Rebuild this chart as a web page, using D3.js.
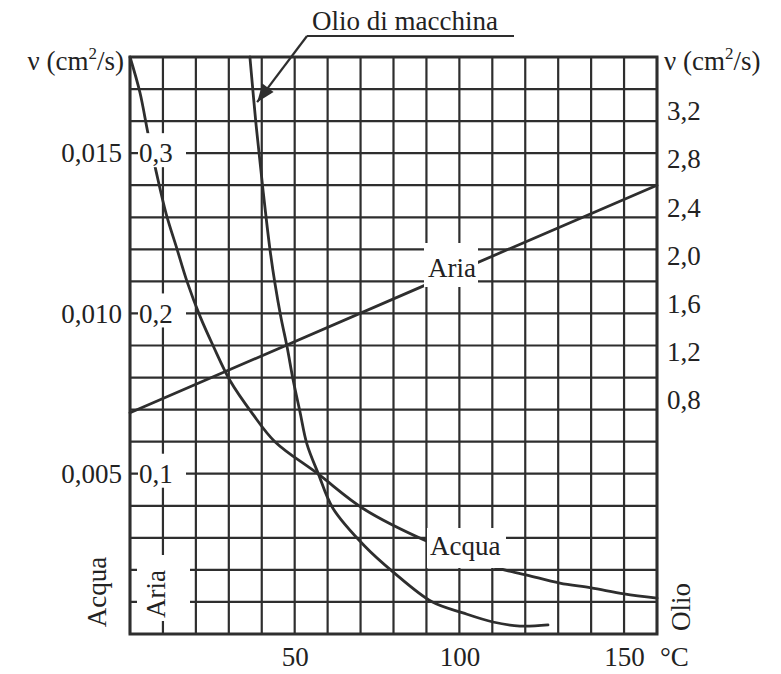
<!DOCTYPE html>
<html>
<head>
<meta charset="utf-8">
<script src="https://cdn.jsdelivr.net/npm/d3@7"></script>
<style>
  body { margin: 0; background: #fff; }
  svg text { font-family: "Liberation Serif", "Times New Roman", serif; font-size: 27px; fill: #222; }
</style>
</head>
<body>
<svg id="chart" width="781" height="674"></svg>
<script>
// temperature (°C) and tick values
const gridTemps = [0, 10, 20, 30, 40, 50, 60, 70, 80, 90, 100, 110, 120, 130, 140, 150, 160]
const tempTicks = [50, 100, 150]
const waterTicks = [0.005, 0.010, 0.015]
const airTicks = [0.1, 0.2, 0.3]
const oilTicks = [0.8, 1.2, 1.6, 2.0, 2.4, 2.8, 3.2]

// Acqua, ν in cm²/s (left outer scale)
const waterT  = [0, 3, 5.5, 8, 11, 14.3, 17.3, 21.3, 25.2, 30.4, 37, 44, 57, 71, 90, 110, 120.5, 130.5, 140, 150, 160]
const waterNu = [0.0180, 0.0169, 0.0156, 0.0144, 0.0131, 0.0120, 0.0110, 0.0099, 0.0090, 0.0079, 0.0069, 0.0060,
                 0.0050, 0.0039, 0.0029, 0.0021, 0.00184, 0.00159, 0.00144, 0.00125, 0.00112]

// Aria, ν in cm²/s (left inner scale)
const airT  = [0, 90, 160]
const airNu = [0.138, 0.218, 0.280]

// Olio di macchina, ν in cm²/s (right scale)
const oilT  = [36.4, 38.3, 40.4, 42.5, 44.0, 45.8, 47.7, 49.5, 51.6, 53.7, 57.1, 61.6, 71.3, 80.1, 91.7, 101.1, 110.2, 118.4, 126.9]
const oilNu = [3.65, 3.08, 2.54, 2.05, 1.77, 1.49, 1.24, 0.97, 0.76, 0.65, 0.55, 0.43, 0.30, 0.21, 0.11, 0.072, 0.041, 0.027, 0.031]

const ink = "#2e2e2e"
const svg = d3.select("#chart")
const itLocale = d3.formatLocale({decimal: ",", thousands: ".", grouping: [3], currency: ["€", ""]})

const x = d3.scaleLinear().domain([0, 160]).range([130, 657])
const yWater = d3.scaleLinear().domain([0, 0.018]).range([634, 57])
const yAir = d3.scaleLinear().domain([0, 0.36]).range([634, 57])
const yOil = d3.scaleLinear().domain([0, 0.8, 3.65]).range([634, 400, 57])

const gridLevels = d3.range(19).map(i => i / 1000)

// grid
const grid = svg.append("g").attr("stroke", ink).attr("stroke-width", 2.2)
grid.selectAll(".v").data(gridTemps).join("line")
  .attr("x1", d => x(d)).attr("x2", d => x(d))
  .attr("y1", yWater(0)).attr("y2", yWater(0.018))
grid.selectAll(".h").data(gridLevels).join("line")
  .attr("x1", x(0)).attr("x2", x(160))
  .attr("y1", d => yWater(d)).attr("y2", d => yWater(d))

// curves
const lineOf = (ys, curve) => d3.line().x(d => x(d[0])).y(d => ys(d[1])).curve(curve)
const curves = svg.append("g").attr("fill", "none").attr("stroke", ink)
  .attr("stroke-width", 2.8).attr("stroke-linecap", "round")
curves.append("path").attr("d", lineOf(yWater, d3.curveCatmullRom.alpha(0.5))(d3.zip(waterT, waterNu)))
curves.append("path").attr("d", lineOf(yAir, d3.curveLinear)(d3.zip(airT, airNu)))
curves.append("path").attr("d", lineOf(yOil, d3.curveCatmullRom.alpha(0.5))(d3.zip(oilT, oilNu)))

// white patches behind labels inside the plot
const patches = [
  ...airTicks.map(v => ({x: 138, y: yAir(v) - 20, w: 48, h: 34})),
  {x: 137, y: 555, w: 53, h: 66},
  {x: 424, y: 243, w: 54, h: 44},
  {x: 427, y: 528, w: 79, h: 40}
]
svg.append("g").selectAll("rect").data(patches).join("rect")
  .attr("x", d => d.x).attr("y", d => d.y).attr("width", d => d.w).attr("height", d => d.h)
  .attr("fill", "#fff")

// frame
svg.append("rect")
  .attr("x", x(0)).attr("y", yWater(0.018))
  .attr("width", x(160) - x(0)).attr("height", yWater(0) - yWater(0.018))
  .attr("fill", "none").attr("stroke", ink).attr("stroke-width", 3)

// axes
const styleAxis = g => g
  .call(g => g.select(".domain").remove())
  .attr("font-family", null).attr("font-size", null)

svg.append("g")
  .attr("transform", `translate(${x(0)},0)`)
  .call(d3.axisLeft(yWater).tickValues(waterTicks).tickFormat(itLocale.format(".3f")).tickSize(0).tickPadding(8))
  .call(styleAxis)

svg.append("g")
  .attr("transform", `translate(${x(0)},0)`)
  .call(d3.axisRight(yAir).tickValues(airTicks).tickFormat(itLocale.format(".1f")).tickSize(0).tickPadding(9))
  .call(styleAxis)

svg.append("g")
  .attr("transform", `translate(${x(160)},0)`)
  .call(d3.axisRight(yOil).tickValues(oilTicks).tickFormat(itLocale.format(".1f")).tickSize(0).tickPadding(10))
  .call(styleAxis)

svg.append("g")
  .attr("transform", `translate(0,${yWater(0)})`)
  .call(d3.axisBottom(x).tickValues(tempTicks).tickSize(0).tickPadding(13))
  .call(styleAxis)

svg.append("text").attr("x", 660).attr("y", 666).text("°C")

// unit titles
const unitTitle = (xPos, anchor) => {
  const t = svg.append("text").attr("x", xPos).attr("y", 70).attr("text-anchor", anchor)
  t.append("tspan").text("ν (cm")
  t.append("tspan").attr("dy", -11).attr("font-size", 17).text("2")
  t.append("tspan").attr("dy", 11).text("/s)")
}
unitTitle(124, "end")
unitTitle(664, "start")

// rotated series names
const rotated = [
  {text: "Acqua", x: 97, y: 592},
  {text: "Aria", x: 156, y: 594},
  {text: "Olio", x: 681, y: 607}
]
svg.append("g").selectAll("text").data(rotated).join("text")
  .attr("transform", d => `translate(${d.x},${d.y}) rotate(-90)`)
  .attr("text-anchor", "middle").attr("dy", "0.35em")
  .text(d => d.text)

// in-plot labels
svg.append("text").attr("x", 428).attr("y", 277).text("Aria")
svg.append("text").attr("x", 430).attr("y", 555).text("Acqua")

// Olio di macchina callout
svg.append("text").attr("x", 312).attr("y", 30).text("Olio di macchina")
const tip = [x(38.6), yOil(3.275)]
const elbow = [307, 36]
svg.append("line").attr("x1", elbow[0]).attr("y1", elbow[1]).attr("x2", 514).attr("y2", elbow[1])
  .attr("stroke", ink).attr("stroke-width", 2)
svg.append("line").attr("x1", elbow[0]).attr("y1", elbow[1]).attr("x2", tip[0]).attr("y2", tip[1])
  .attr("stroke", ink).attr("stroke-width", 2.2)
const ang = Math.atan2(tip[1] - elbow[1], tip[0] - elbow[0])
const head = [
  tip,
  [tip[0] - 18 * Math.cos(ang) + 7 * Math.sin(ang), tip[1] - 18 * Math.sin(ang) - 7 * Math.cos(ang)],
  [tip[0] - 18 * Math.cos(ang) - 7 * Math.sin(ang), tip[1] - 18 * Math.sin(ang) + 7 * Math.cos(ang)]
]
svg.append("path").attr("d", d3.line()(head) + "Z").attr("fill", ink)
</script>
</body>
</html>
